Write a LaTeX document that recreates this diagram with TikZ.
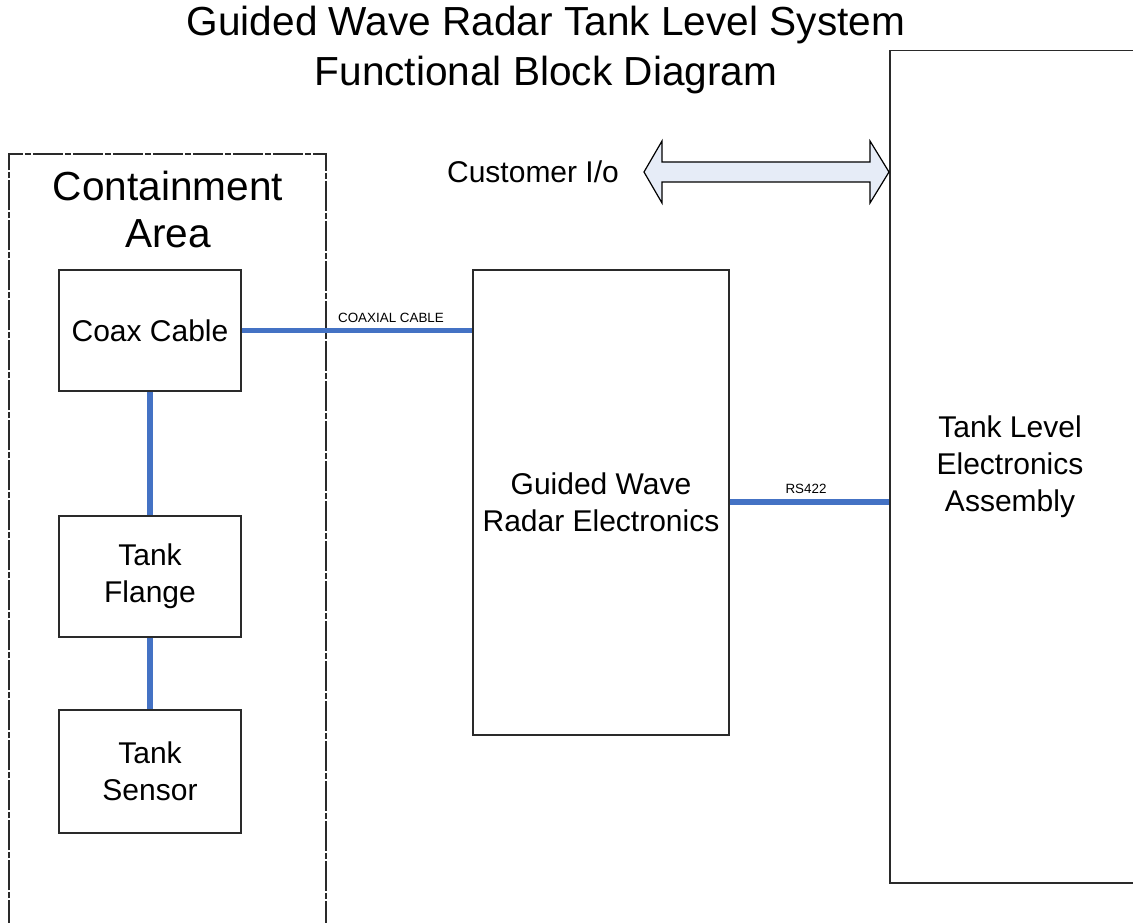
\documentclass[tikz,border=0pt]{standalone}
\usepackage{fontspec}
\setmainfont{Liberation Sans}
\definecolor{linkblue}{HTML}{4472C4}
\definecolor{arrowfill}{HTML}{E6ECF7}
\definecolor{edge}{HTML}{2A2A2A}
\begin{document}
\begin{tikzpicture}[x=1pt,y=-1pt,
  box/.style={draw=edge, line width=1.5pt, fill=white, inner sep=0pt, align=center, font=\fontsize{30}{37}\selectfont},
  link/.style={draw=linkblue, line width=5.5pt},
  small/.style={font=\fontsize{13.4}{15}\selectfont, inner sep=0pt},
  zone/.style={draw=edge, line width=1.3pt, dash pattern=on 30pt off 2pt on 6pt off 2pt}]
\useasboundingbox[fill=white] (0,0) rectangle (1133,923);
% title
\node[font=\fontsize{40.6}{50}\selectfont, align=center] (title) at (546,50) {Guided Wave Radar Tank Level System\\Functional Block Diagram};
% containment area
\draw[zone] (9,930) -- (9,154) -- (326,154) -- (326,930);
\node[font=\fontsize{40.6}{47}\selectfont, align=center] (zonelabel) at (168,209) {Containment\\Area};
% boxes
\node[box, minimum width=182, minimum height=121] (coax) at (150,330.5) {Coax Cable};
\node[box, minimum width=182, minimum height=121] (flange) at (150,576.5) {Tank\\Flange};
\node[box, minimum width=182, minimum height=123] (sensor) at (150,771.5) {Tank\\Sensor};
\node[box, minimum width=256, minimum height=465] (gwr) at (601,502.5) {Guided Wave\\Radar Electronics};
\node[box, minimum width=260, minimum height=832, text width=240, anchor=north west] (tle) at (889,50) {};
\node[font=\fontsize{30}{37}\selectfont, align=center] (tletext) at (1010,467) {Tank Level\\Electronics\\Assembly};
% customer I/O
\node[font=\fontsize{30}{37}\selectfont] (cio) at (533,172) {Customer I/o};
\draw[draw=black, line width=1.2pt, fill=arrowfill, line join=miter]
  (644,172) -- (662,141) -- (662,162) -- (870,162) -- (870,141) -- (889,172)
  -- (870,203) -- (870,182) -- (662,182) -- (662,203) -- cycle;
% links
\draw[link] (coax.east) -- (gwr.west |- coax.east) coordinate (coaxend);
\node[small] (coaxlabel) at (391,318) {COAXIAL CABLE};
\draw[link] (coax.south) -- (flange.north);
\draw[link] (flange.south) -- (sensor.north);
\draw[link] (gwr.east |- 0,502) coordinate (rsstart) -- (tle.west |- rsstart);
\node[small] (rslabel) at (806,489) {RS422};
\end{tikzpicture}
\end{document}
